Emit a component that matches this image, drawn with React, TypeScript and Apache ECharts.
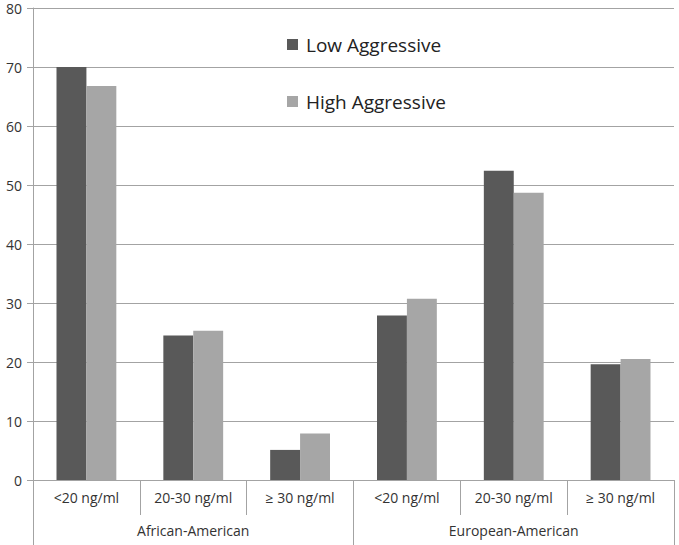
import React, { useEffect, useRef } from "react";
import * as echarts from "echarts";

const subCategories = ["<20 ng/ml", "20-30 ng/ml", "≥ 30 ng/ml", "<20 ng/ml", "20-30 ng/ml", "≥ 30 ng/ml"];
const groups = ["African-American", "European-American"];
const lowAggressive = [70, 24.5, 5.1, 27.9, 52.4, 19.6];
const highAggressive = [66.8, 25.3, 7.9, 30.7, 48.7, 20.5];

const FONT = "'Open Sans', 'Liberation Sans', sans-serif";
const GRID = "#a3a3a3";

export default function App() {
  const ref = useRef<HTMLDivElement>(null);
  useEffect(() => {
    if (!ref.current) return;
    const chart = echarts.init(ref.current, null, { renderer: "svg" });
    chart.setOption({
      animation: false,
      backgroundColor: "#ffffff",
      textStyle: { fontFamily: FONT },
      grid: { left: 33, right: 5, top: 8, bottom: 65, containLabel: false },
      legend: {
        orient: "vertical",
        left: 287,
        top: 35,
        padding: 0,
        itemWidth: 11,
        itemHeight: 11,
        itemGap: 38,
        icon: "rect",
        textStyle: { fontSize: 19, color: "#222", fontFamily: FONT, padding: [0, 0, 0, 3] },
        data: ["Low Aggressive", "High Aggressive"],
      },
      xAxis: [
        {
          type: "category",
          data: subCategories,
          axisLine: { lineStyle: { color: GRID, width: 1 } },
          axisTick: { show: true, interval: 0, length: 35, lineStyle: { color: GRID } },
          axisLabel: { interval: 0, margin: 10, fontSize: 14, color: "#333", fontFamily: FONT },
          splitLine: { show: false },
        },
        {
          type: "category",
          data: groups,
          position: "bottom",
          offset: 35,
          axisLine: { show: false },
          axisTick: { show: true, interval: 0, length: 30, lineStyle: { color: GRID } },
          axisLabel: { interval: 0, margin: 8, fontSize: 14, color: "#333", fontFamily: FONT },
          splitLine: { show: false },
        },
      ],
      yAxis: {
        type: "value",
        min: 0,
        max: 80,
        interval: 10,
        axisLine: { show: true, lineStyle: { color: GRID } },
        axisTick: { show: true, length: 6, inside: false, lineStyle: { color: GRID } },
        axisLabel: { margin: 11, fontSize: 14, color: "#333", fontFamily: FONT },
        splitLine: { show: true, lineStyle: { color: GRID, width: 1 } },
      },
      series: [
        {
          name: "Low Aggressive",
          type: "bar",
          xAxisIndex: 0,
          data: lowAggressive,
          barGap: "0%",
          barCategoryGap: "44%",
          itemStyle: { color: "#595959" },
        },
        {
          name: "High Aggressive",
          type: "bar",
          xAxisIndex: 0,
          data: highAggressive,
          barGap: "0%",
          barCategoryGap: "44%",
          itemStyle: { color: "#a6a6a6" },
        },
      ],
    });
    return () => chart.dispose();
  }, []);
  return (
    <div
      ref={ref}
      style={{ position: "fixed", left: 0, top: 0, width: 679, height: 545, background: "#fff" }}
    />
  );
}
